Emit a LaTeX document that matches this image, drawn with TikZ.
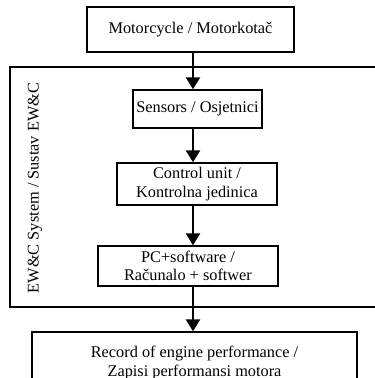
\documentclass[tikz,border=0pt]{standalone}
\usepackage{fontspec}
\setmainfont{Liberation Serif}
\usetikzlibrary{arrows.meta}

\tikzset{
  blok/.style={draw, line width=1.4pt, align=center, inner sep=0pt,
    font=\fontsize{16.3}{18.5}\selectfont},
  strelica/.style={line width=2.4pt, -{Triangle[width=14pt,length=12pt]}}
}

\begin{document}
\begin{tikzpicture}[x=1pt, y=-1pt]

\clip (0,0) rectangle (375,378); %% frame

\coordinate (os) at (193,0); %% column of the arrows

%% outer system frame
\draw[line width=1.4pt] (10,67) rectangle (390,307);
\node[rotate=90, font=\fontsize{16.3}{18.5}\selectfont] (sustav) at (35,188) {EW\&C System / Sustav EW\&C};

%% boxes
\node[blok, minimum width=207pt, minimum height=45pt] (moto) at (190.5,29.5) {Motorcycle / Motorkotač};
\node[blok, minimum width=129pt, minimum height=38pt] (senzori) at (197.5,109) {Sensors / Osjetnici};
\node[blok, minimum width=160pt, minimum height=42pt] (kontrola) at (197,184) {Control unit /\\ Kontrolna jedinica};
\node[blok, minimum width=180pt, minimum height=40pt] (racunalo) at (188,266) {PC+software /\\ Računalo + softwer};
\node[blok, minimum width=325pt, minimum height=62pt] (zapis) at (194.5,363) {Record of engine performance /\\ Zapisi performansi motora};

%% arrows
\draw[strelica] (moto.south -| os) -- (senzori.north -| os);
\draw[strelica] (senzori.south -| os) -- (kontrola.north -| os);
\draw[strelica] (kontrola.south -| os) -- (racunalo.north -| os);
\draw[strelica] (racunalo.south -| os) -- (zapis.north -| os);

\end{tikzpicture}
\end{document}
